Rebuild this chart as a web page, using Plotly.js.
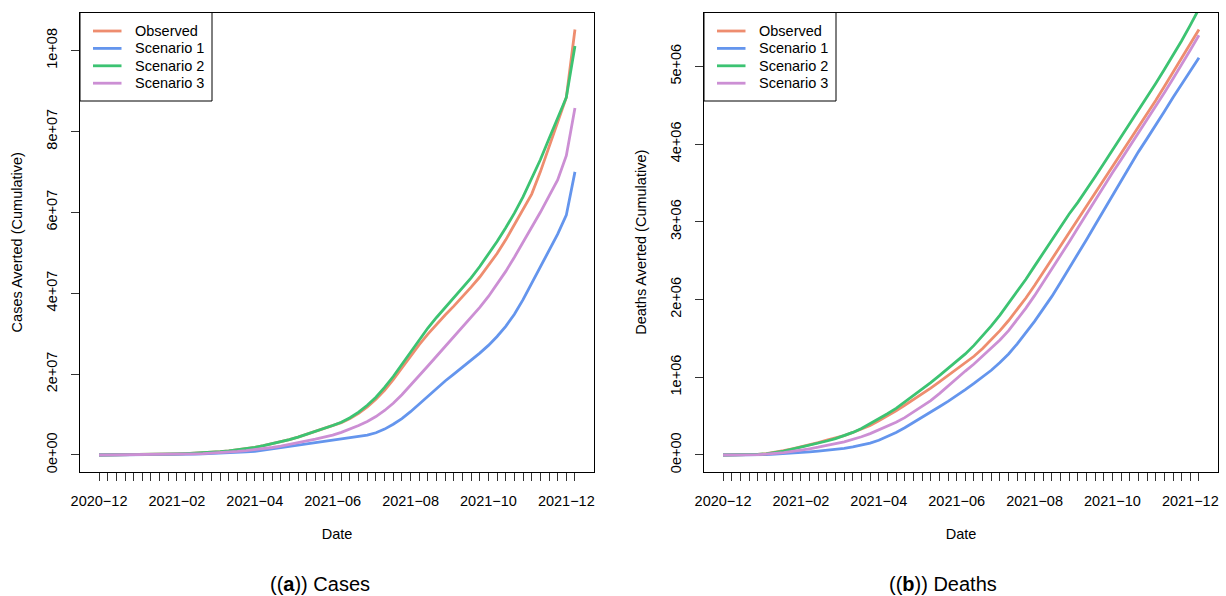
<!DOCTYPE html>
<html>
<head>
<meta charset="utf-8">
<script src="https://cdn.plot.ly/plotly-3.0.1.min.js"></script>
<style>
  html, body { margin: 0; padding: 0; background: #fff; }
  #chart { width: 1226px; height: 596px; }
</style>
</head>
<body>
<div id="chart"></div>
<script>
// Weekly cumulative cases averted (first week: 2020-12-08)
const casesObserved = [
  0, 0.01e6, 0.02e6, 0.04e6, 0.06e6, 0.09e6, 0.12e6, 0.16e6, 0.21e6, 0.27e6,
  0.34e6, 0.42e6, 0.52e6, 0.64e6, 0.8e6, 1.0e6, 1.25e6, 1.55e6, 1.9e6, 2.3e6,
  2.75e6, 3.25e6, 3.8e6, 4.4e6, 5.1e6, 5.8e6, 6.5e6, 7.2e6, 8.0e6, 9.0e6,
  10.3e6, 11.9e6, 13.8e6, 16.0e6, 18.6e6, 21.5e6, 24.5e6, 27.3e6, 29.9e6, 32.3e6,
  34.6e6, 36.8e6, 39.1e6, 41.5e6, 44.0e6, 46.8e6, 49.8e6, 53.2e6, 57.0e6, 60.5e6,
  64.5e6, 70.0e6, 76.0e6, 82.0e6, 88.4e6, 105.2e6
];
const casesScenario1 = [
  0, 0.005e6, 0.01e6, 0.015e6, 0.02e6, 0.03e6, 0.04e6, 0.05e6, 0.07e6, 0.1e6,
  0.15e6, 0.2e6, 0.25e6, 0.32e6, 0.4e6, 0.5e6, 0.6e6, 0.75e6, 0.9e6, 1.2e6,
  1.5e6, 1.8e6, 2.1e6, 2.4e6, 2.8e6, 3.1e6, 3.4e6, 3.7e6, 3.95e6, 4.2e6,
  4.5e6, 4.9e6, 5.5e6, 6.4e6, 7.6e6, 9.0e6, 10.7e6, 12.6e6, 14.6e6, 16.5e6,
  18.3e6, 20.0e6, 21.7e6, 23.4e6, 25.2e6, 27.1e6, 29.3e6, 31.8e6, 34.8e6, 38.4e6,
  42.4e6, 46.5e6, 50.5e6, 54.6e6, 59.3e6, 70.0e6
];
const casesScenario2 = [
  0, 0.01e6, 0.02e6, 0.04e6, 0.06e6, 0.09e6, 0.12e6, 0.16e6, 0.21e6, 0.27e6,
  0.34e6, 0.42e6, 0.52e6, 0.64e6, 0.8e6, 1.0e6, 1.25e6, 1.55e6, 1.9e6, 2.3e6,
  2.75e6, 3.25e6, 3.8e6, 4.4e6, 5.1e6, 5.8e6, 6.55e6, 7.3e6, 8.1e6, 9.2e6,
  10.6e6, 12.3e6, 14.3e6, 16.7e6, 19.4e6, 22.4e6, 25.6e6, 28.6e6, 31.4e6, 34.0e6,
  36.4e6, 38.8e6, 41.2e6, 43.8e6, 46.6e6, 49.6e6, 52.8e6, 56.2e6, 59.8e6, 63.8e6,
  68.2e6, 73.0e6, 78.2e6, 83.4e6, 88.4e6, 101.1e6
];
const casesScenario3 = [
  0, 0.01e6, 0.02e6, 0.03e6, 0.04e6, 0.06e6, 0.08e6, 0.11e6, 0.14e6, 0.18e6,
  0.23e6, 0.29e6, 0.36e6, 0.45e6, 0.56e6, 0.7e6, 0.87e6, 1.07e6, 1.3e6, 1.55e6,
  1.85e6, 2.2e6, 2.6e6, 3.0e6, 3.45e6, 3.9e6, 4.4e6, 4.9e6, 5.6e6, 6.4e6,
  7.3e6, 8.3e6, 9.5e6, 11.0e6, 12.8e6, 14.9e6, 17.2e6, 19.6e6, 22.0e6, 24.4e6,
  26.8e6, 29.2e6, 31.6e6, 34.0e6, 36.5e6, 39.2e6, 42.2e6, 45.4e6, 48.9e6, 52.5e6,
  56.2e6, 60.0e6, 64.0e6, 68.0e6, 74.0e6, 85.8e6
];

// Weekly cumulative deaths averted
const deathsObserved = [
  0, 0, 0.001e6, 0.003e6, 0.008e6, 0.017e6, 0.032e6, 0.055e6, 0.08e6, 0.105e6,
  0.13e6, 0.16e6, 0.19e6, 0.22e6, 0.25e6, 0.29e6, 0.33e6, 0.38e6, 0.44e6, 0.5e6,
  0.57e6, 0.64e6, 0.71e6, 0.78e6, 0.86e6, 0.94e6, 1.02e6, 1.1e6, 1.18e6, 1.27e6,
  1.37e6, 1.48e6, 1.6e6, 1.73e6, 1.87e6, 2.02e6, 2.18e6, 2.35e6, 2.52e6, 2.69e6,
  2.86e6, 3.03e6, 3.2e6, 3.37e6, 3.53e6, 3.7e6, 3.87e6, 4.04e6, 4.21e6, 4.38e6,
  4.56e6, 4.74e6, 4.92e6, 5.1e6, 5.29e6, 5.474e6
];
const deathsScenario1 = [
  0, 0, 0, 0.001e6, 0.003e6, 0.006e6, 0.01e6, 0.016e6, 0.023e6, 0.031e6,
  0.04e6, 0.05e6, 0.06e6, 0.072e6, 0.086e6, 0.103e6, 0.124e6, 0.152e6, 0.19e6, 0.237e6,
  0.29e6, 0.35e6, 0.415e6, 0.48e6, 0.55e6, 0.62e6, 0.69e6, 0.76e6, 0.84e6, 0.92e6,
  1.0e6, 1.09e6, 1.19e6, 1.3e6, 1.43e6, 1.57e6, 1.72e6, 1.88e6, 2.04e6, 2.22e6,
  2.4e6, 2.58e6, 2.77e6, 2.96e6, 3.15e6, 3.34e6, 3.53e6, 3.72e6, 3.9e6, 4.07e6,
  4.24e6, 4.42e6, 4.6e6, 4.77e6, 4.94e6, 5.11e6
];
const deathsScenario2 = [
  0, 0, 0.001e6, 0.003e6, 0.007e6, 0.015e6, 0.03e6, 0.05e6, 0.075e6, 0.1e6,
  0.125e6, 0.15e6, 0.18e6, 0.21e6, 0.245e6, 0.29e6, 0.34e6, 0.4e6, 0.46e6, 0.53e6,
  0.6e6, 0.68e6, 0.76e6, 0.84e6, 0.93e6, 1.02e6, 1.11e6, 1.2e6, 1.3e6, 1.41e6,
  1.53e6, 1.66e6, 1.8e6, 1.95e6, 2.1e6, 2.26e6, 2.43e6, 2.6e6, 2.77e6, 2.94e6,
  3.1e6, 3.25e6, 3.41e6, 3.58e6, 3.75e6, 3.92e6, 4.09e6, 4.26e6, 4.43e6, 4.6e6,
  4.78e6, 4.96e6, 5.14e6, 5.33e6, 5.53e6, 5.74e6
];
const deathsScenario3 = [
  0, 0, 0, 0.002e6, 0.005e6, 0.01e6, 0.018e6, 0.03e6, 0.045e6, 0.06e6,
  0.08e6, 0.1e6, 0.12e6, 0.145e6, 0.17e6, 0.2e6, 0.235e6, 0.275e6, 0.32e6, 0.37e6,
  0.42e6, 0.48e6, 0.55e6, 0.62e6, 0.7e6, 0.79e6, 0.89e6, 0.99e6, 1.08e6, 1.17e6,
  1.27e6, 1.37e6, 1.48e6, 1.6e6, 1.74e6, 1.89e6, 2.05e6, 2.22e6, 2.39e6, 2.56e6,
  2.74e6, 2.92e6, 3.1e6, 3.28e6, 3.46e6, 3.63e6, 3.8e6, 3.97e6, 4.14e6, 4.31e6,
  4.48e6, 4.66e6, 4.84e6, 5.02e6, 5.21e6, 5.40e6
];

const seriesNames = ['Observed', 'Scenario 1', 'Scenario 2', 'Scenario 3'];
const seriesColors = ['#EE8D6F', '#6495ED', '#3CC372', '#CC8FD4'];

const casesTickVals = [0, 2e7, 4e7, 6e7, 8e7, 1e8];
const casesTickText = ['0e+00', '2e+07', '4e+07', '6e+07', '8e+07', '1e+08'];
const deathsTickVals = [0, 1e6, 2e6, 3e6, 4e6, 5e6];
const deathsTickText = ['0e+00', '1e+06', '2e+06', '3e+06', '4e+06', '5e+06'];

const panelCaptions = ['((<b>a</b>)) Cases', '((<b>b</b>)) Deaths'];

// Week dates and labels (label every 9th week as YYYY−MM)
const DAY = 864e5;
const firstWeek = Date.UTC(2020, 11, 8);
const weekMs = casesObserved.map((_, i) => firstWeek + 7 * i * DAY);
const weekDates = weekMs.map(ms => new Date(ms).toISOString().slice(0, 10));
const weekLabels = weekDates.map((d, i) =>
  i % 9 === 0 ? d.slice(0, 4) + '\u2212' + d.slice(5, 7) : '');

function msToDate(ms) {
  return new Date(ms).toISOString().replace('T', ' ').replace('Z', '');
}
const span = weekMs[weekMs.length - 1] - weekMs[0];
const xRange = [msToDate(weekMs[0] - 0.04 * span), msToDate(weekMs[weekMs.length - 1] + 0.04 * span)];

function padRange(vals) {
  const lo = Math.min(...vals), hi = Math.max(...vals);
  const d = hi - lo;
  return [lo - 0.04 * d, hi + 0.04 * d];
}

const FONT = 'Liberation Sans, Arial, Helvetica, sans-serif';
const TICK_FONT = { family: FONT, size: 14.5, color: '#000' };

function xAxis(domain) {
  return {
    type: 'date', domain: domain, range: xRange,
    tickmode: 'array', tickvals: weekDates, ticktext: weekLabels,
    ticks: 'outside', ticklen: 8, tickwidth: 1, tickcolor: '#333',
    ticklabelstandoff: 8,
    showline: true, mirror: true, linecolor: '#000', linewidth: 1,
    showgrid: false, zeroline: false, tickangle: 0,
    tickfont: TICK_FONT,
    title: { text: 'Date', font: TICK_FONT, standoff: 20 }
  };
}
function yAxis(domain, anchor, range, vals, text, title) {
  return {
    domain: domain, anchor: anchor, range: range,
    tickmode: 'array', tickvals: vals, ticktext: text, tickangle: -90,
    ticks: 'outside', ticklen: 8, tickwidth: 1, tickcolor: '#333',
    ticklabelstandoff: 8,
    showline: true, mirror: true, linecolor: '#000', linewidth: 1,
    showgrid: false, zeroline: false,
    tickfont: TICK_FONT,
    title: { text: title, font: TICK_FONT, standoff: 18 }
  };
}

const casesSeries = [casesObserved, casesScenario1, casesScenario2, casesScenario3];
const deathsSeries = [deathsObserved, deathsScenario1, deathsScenario2, deathsScenario3];

const LINE_W = 2.8;
const traces = [];
casesSeries.forEach((ys, k) => traces.push({
  x: weekDates, y: ys, type: 'scatter', mode: 'lines', name: seriesNames[k],
  line: { color: seriesColors[k], width: LINE_W }, xaxis: 'x', yaxis: 'y',
  showlegend: false, hoverinfo: 'skip'
}));
deathsSeries.forEach((ys, k) => traces.push({
  x: weekDates, y: ys, type: 'scatter', mode: 'lines', name: seriesNames[k],
  line: { color: seriesColors[k], width: LINE_W }, xaxis: 'x2', yaxis: 'y2',
  showlegend: false, hoverinfo: 'skip'
}));

const W = 1226, H = 596;
const leftDom = [80 / W, 594 / W];
const rightDom = [704 / W, 1218 / W];
const yDom = [(H - 472) / H, (H - 12.5) / H];

// Boxed legend in the top-left corner of each panel (R-style compact rows)
const shapes = [];
const annotations = [];
function addLegend(leftPx) {
  const top = 12.5, bottom = 101, width = 132, rowY0 = 31, rowStep = 17.4;
  shapes.push({
    type: 'rect', xref: 'paper', yref: 'paper',
    x0: leftPx / W, x1: (leftPx + width) / W, y0: (H - bottom) / H, y1: (H - top) / H,
    line: { color: '#000', width: 1 }, fillcolor: '#fff', layer: 'above'
  });
  seriesNames.forEach((name, k) => {
    const yPx = rowY0 + k * rowStep;
    shapes.push({
      type: 'line', xref: 'paper', yref: 'paper',
      x0: (leftPx + 13) / W, x1: (leftPx + 41.5) / W, y0: (H - yPx) / H, y1: (H - yPx) / H,
      line: { color: seriesColors[k], width: LINE_W }, layer: 'above'
    });
    annotations.push({
      text: name, xref: 'paper', yref: 'paper', x: (leftPx + 53) / W, y: (H - yPx) / H,
      xanchor: 'left', yanchor: 'middle', showarrow: false,
      font: { family: FONT, size: 14.5, color: '#000' }
    });
  });
}
addLegend(80);
addLegend(704);

panelCaptions.forEach((txt, k) => annotations.push({
  text: txt, x: [320, 943][k] / W, y: (H - 584) / H, xref: 'paper', yref: 'paper',
  xanchor: 'center', yanchor: 'middle', showarrow: false,
  font: { family: FONT, size: 20, color: '#000' }
}));

const layout = {
  width: W, height: H,
  margin: { l: 0, r: 0, t: 0, b: 0 },
  paper_bgcolor: '#fff', plot_bgcolor: '#fff',
  showlegend: false,
  xaxis: Object.assign(xAxis(leftDom), { anchor: 'y' }),
  yaxis: yAxis(yDom, 'x', padRange(casesObserved), casesTickVals, casesTickText,
               'Cases Averted (Cumulative)'),
  xaxis2: Object.assign(xAxis(rightDom), { anchor: 'y2' }),
  yaxis2: yAxis(yDom, 'x2', padRange(deathsObserved), deathsTickVals, deathsTickText,
                'Deaths Averted (Cumulative)'),
  shapes: shapes,
  annotations: annotations
};

Plotly.newPlot('chart', traces, layout, { staticPlot: true, displayModeBar: false });
</script>
</body>
</html>
